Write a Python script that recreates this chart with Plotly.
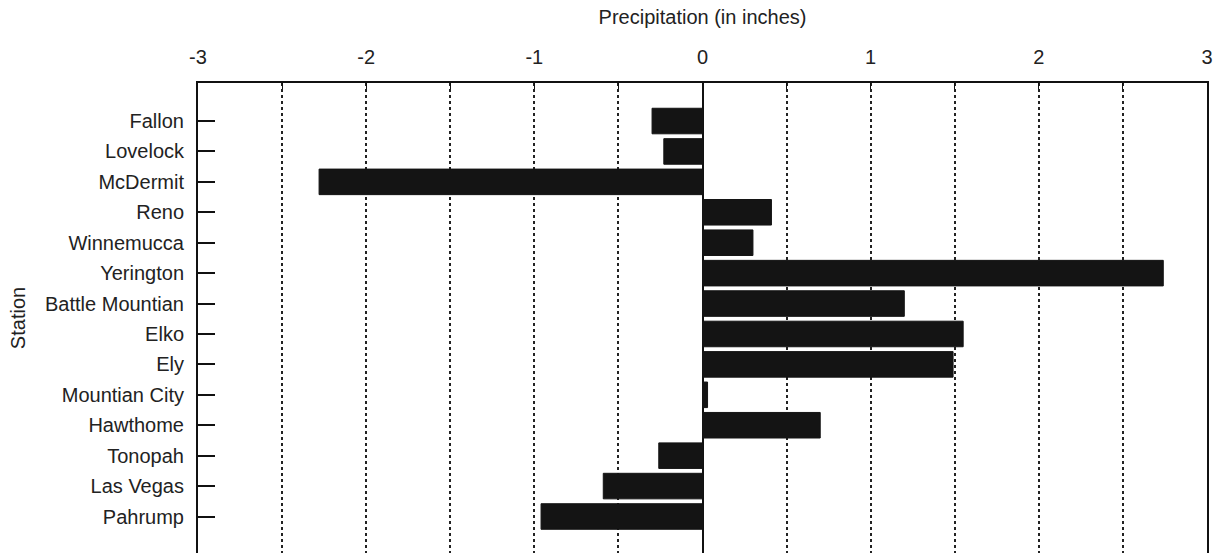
import plotly.graph_objects as go

stations = ["Fallon", "Lovelock", "McDermit", "Reno", "Winnemucca", "Yerington",
            "Battle Mountian", "Elko", "Ely", "Mountian City", "Hawthome",
            "Tonopah", "Las Vegas", "Pahrump"]
precip = [-0.30, -0.23, -2.28, 0.41, 0.30, 2.74, 1.20, 1.55, 1.49, 0.03, 0.70,
          -0.26, -0.59, -0.96]
x_ticks = [-3, -2, -1, 0, 1, 2, 3]

font_fam = "Liberation Sans, Arial, sans-serif"

fig = go.Figure(go.Bar(
    x=precip, y=stations, orientation="h",
    marker=dict(color="#141414", line=dict(color="#141414", width=1)),
    width=0.84,
))

fig.update_layout(
    width=1218, height=553,
    margin=dict(l=198, r=11, t=83, b=0, autoexpand=False),
    plot_bgcolor="white", paper_bgcolor="white",
    font=dict(family=font_fam, size=20, color="#222"),
    showlegend=False,
    bargap=0.15,
)

fig.update_xaxes(
    side="top", range=[-3, 3], automargin=False,
    tickvals=x_ticks, ticktext=[str(v) for v in x_ticks],
    ticks="inside", ticklen=6, tickcolor="#111",
    showline=True, linecolor="#111", linewidth=2,
    showgrid=True, gridcolor="#222", griddash="dot", gridwidth=1.5,
    minor=dict(dtick=0.5, showgrid=True, gridcolor="#222", griddash="dot",
               gridwidth=1.5, ticks="inside", ticklen=6, tickcolor="#111"),
    zeroline=True, zerolinecolor="#111", zerolinewidth=1.5,
    title=dict(text="Precipitation (in inches)", standoff=16,
               font=dict(size=20)),
    tickfont=dict(size=20), ticklabelstandoff=9,
)

fig.update_yaxes(
    categoryorder="array", categoryarray=stations, automargin=False,
    range=[14.2, -1.25],
    ticks="inside", ticklen=17, tickcolor="#111", tickwidth=1.5,
    showline=True, linecolor="#111", linewidth=2, mirror=True,
    showgrid=False, zeroline=False,
    tickfont=dict(size=20), ticklabelstandoff=8,
    title=dict(text="Station", standoff=14, font=dict(size=20)),
)

fig.write_html(
    "out.html",
    config={"displayModeBar": False},
    post_script="document.body.style.margin='0';document.body.style.overflow='hidden';",
)
